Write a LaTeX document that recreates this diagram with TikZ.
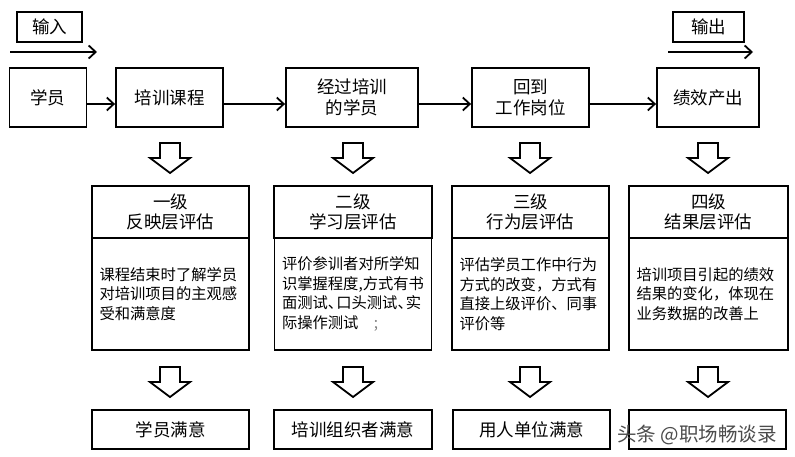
\documentclass[tikz,border=0pt]{standalone}
\usepackage{fontspec}
\setmainfont{Noto Sans CJK SC}
\usetikzlibrary{arrows.meta}
\newcommand{\hwp}[1]{\makebox[0.55em][l]{#1}}
\tikzset{
  lw/.style={line width=1.8pt},
  box/.style={draw, lw, rectangle, inner sep=0pt, align=center,
    font=\fontsize{17.5}{20.5}\selectfont},
  hdr/.style={box, minimum height=52pt, font=\fontsize{17.5}{20.5}\selectfont},
  body/.style={draw, lw, rectangle, minimum height=112pt, inner xsep=7.5pt, inner ysep=0pt,
    text width=142pt, align=left, font=\fontsize{15.3}{19.5}\selectfont},
  conn/.style={lw, -{Straight Barb[length=7pt,width=13pt,line width=1.8pt]}},
  hollow/.style={lw, line join=miter, fill=white},
}
\newcommand{\hollowarrow}[2]{%
  \draw[hollow] (#1-10,#2) -- (#1+10,#2) -- (#1+10,#2+15) -- (#1+20,#2+15)
    -- (#1,#2+30) -- (#1-20,#2+15) -- (#1-10,#2+15) -- cycle;}
\begin{document}
\begin{tikzpicture}[x=1pt,y=-1pt]
\useasboundingbox[fill=white] (0,0) rectangle (795,457);

% input / output labels
\node[box, minimum width=65pt, minimum height=30pt] (inlab) at (49.5,27) {输入};
\node[box, minimum width=71pt, minimum height=30pt] (outlab) at (708.5,27) {输出};
\coordinate (in1) at (10,52);
\coordinate (in2) at (97,52);
\coordinate (out1) at (668,52);
\coordinate (out2) at (753,52);
\draw[conn] (in1) -- (in2);
\draw[conn] (out1) -- (out2);

% top row
\node[box, minimum width=77pt, minimum height=59pt] (s1) at (48,97.5) {学员};
\node[box, minimum width=107pt, minimum height=59pt] (s2) at (169.5,97.5) {培训课程};
\node[box, minimum width=132pt, minimum height=59pt] (s3) at (352,97.5) {经过培训\\的学员};
\node[box, minimum width=117pt, minimum height=59pt] (s4) at (530.5,97.5) {回到\\工作岗位};
\node[box, minimum width=102pt, minimum height=59pt] (s5) at (708,97.5) {绩效产出};
\foreach \a/\b in {s1/s2,s2/s3,s3/s4,s4/s5}
  \draw[conn] ([yshift=-6.5pt]\a.east) -- ([yshift=-6.5pt]\b.west);

% hollow arrows
\hollowarrow{170}{143}
\hollowarrow{353}{143}
\hollowarrow{530}{143}
\hollowarrow{708}{143}
\hollowarrow{170}{367}
\hollowarrow{353}{367}
\hollowarrow{530}{367}
\hollowarrow{708}{367}

% middle row
\node[hdr, minimum width=157pt] (h1) at (170.5,212) {一级\\反映层评估};
\node[hdr, minimum width=158pt] (h2) at (353,212) {二级\\学习层评估};
\node[hdr, minimum width=157pt] (h3) at (530.5,212) {三级\\行为层评估};
\node[hdr, minimum width=159pt] (h4) at (708.5,212) {四级\\结果层评估};

\node[body] (b1) at (170.5,294) {课程结束时了解学员\\对培训项目的主观感\\受和满意度};
\node[body] (b2) at (353,294) {评价参训者对所学知\\识掌握程度,方式有书\\面测试\hwp{、}口头测试\hwp{、}实\\际操作测试\quad{\color{black!50};}};
\node[body] (b3) at (530.5,294) {评估学员工作中行为\\方式的改变，方式有\\直接上级评价、同事\\评价等};
\node[body, text width=144pt] (b4) at (708.5,294) {培训项目引起的绩效\\结果的变化，体现在\\业务数据的改善上};

% bottom row
\node[box, minimum width=157pt, minimum height=39pt] (r1) at (170.5,429.5) {学员满意};
\node[box, minimum width=158pt, minimum height=39pt] (r2) at (353,429.5) {培训组织者满意};
\node[box, minimum width=157pt, minimum height=39pt] (r3) at (531.5,429.5) {用人单位满意};
\node[box, minimum width=157pt, minimum height=39pt] (r4) at (707.5,429.5) {};

% watermark
\node[text=black!70, font=\fontsize{19.5}{21}\selectfont, inner sep=0pt] (wm) at (697,435) {头条 @职场畅谈录};
\end{tikzpicture}
\end{document}
